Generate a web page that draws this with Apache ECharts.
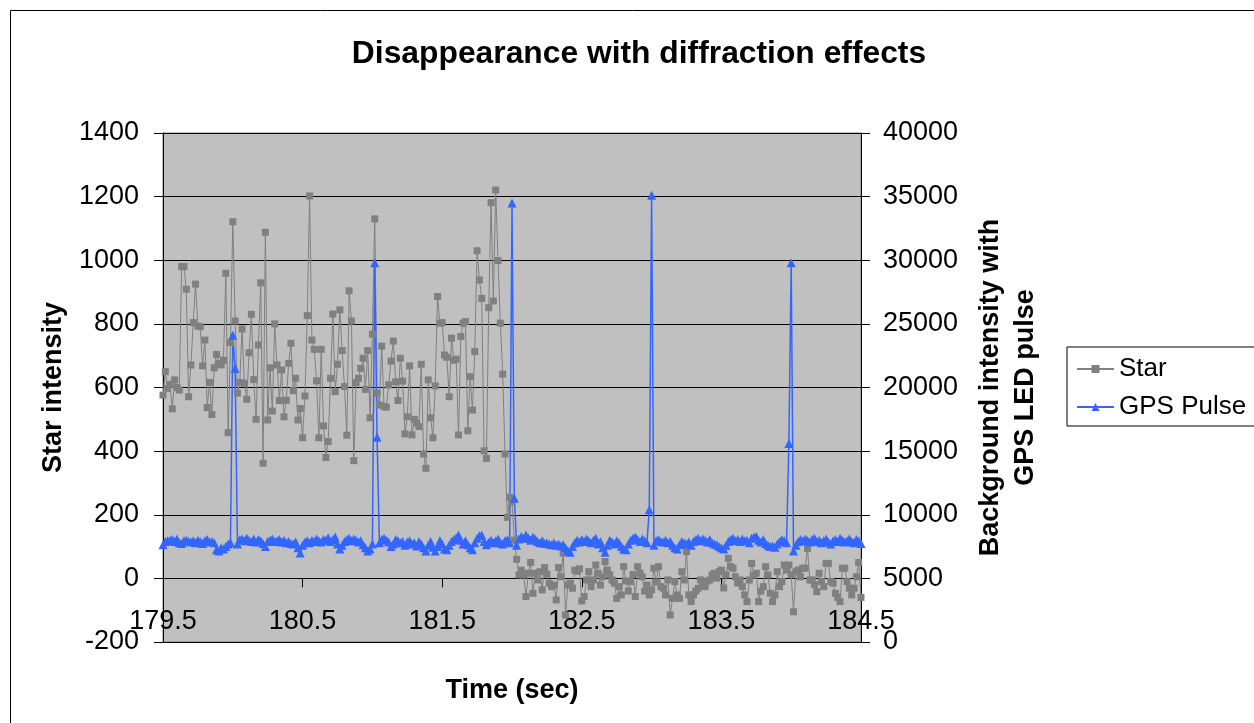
<!DOCTYPE html>
<html>
<head>
<meta charset="utf-8">
<title>Disappearance with diffraction effects</title>
<script src="https://cdn.jsdelivr.net/npm/echarts@6/dist/echarts.min.js"></script>
<style>
  html, body { margin: 0; padding: 0; background: #fff; }
  #container { width: 1254px; height: 723px; }
</style>
</head>
<body>
<div id="container"></div>
<script>
// video fields, 60 per second from 179.5 s
var startTime = 179.5;
var fieldsPerSec = 60;

var xTicks = [179.5, 180.5, 181.5, 182.5, 183.5, 184.5];

// star intensity, one value per field
var starIntensity = [
    576, 650, 597, 610, 533, 624, 600, 592, 980, 980, 909, 571, 671, 804, 925, 793, 791, 668, 749, 537,
    616, 515, 662, 704, 676, 671, 686, 959, 458, 741, 1121, 809, 582, 616, 784, 613, 563, 709, 830, 625,
    500, 734, 929, 362, 1088, 498, 662, 526, 800, 671, 559,
    655, 508, 560, 676, 739, 590, 629, 498, 534, 442, 573, 826, 1202, 749, 720, 621, 442, 720, 479, 380,
    430, 629, 831, 587, 673, 844, 716, 603, 450, 904, 809, 370, 615, 629, 660, 692, 594, 716, 505, 768,
    1130, 582, 545, 730, 540, 538, 608, 683, 746, 618, 559, 692, 620,
    454, 508, 668, 451, 500, 488, 477, 673, 391, 346, 624, 505, 442, 605, 886, 802, 804, 702, 695, 571,
    755, 686, 689, 451, 760, 802, 807, 464, 634, 529, 713, 1030, 938, 880, 401, 377, 851, 1181, 872, 1221,
    999, 802, 642, 391, 192, 255, 240, 120, 60,
    11, 26, 11, -57, 16, 50, -47, 16, -5, 21, -36, 34, 13, -15, -26, -21, -68, 34, 5, 79,
    -115, -21, -15, -31, 26, 22, 30, -71, -57, -5, 21, -26, -5, 42, 16, -21, 5, 53, 26, 11,
    -5, -15, -63, -26, -52, 37, -8, -40,
    -10, 12, -57, 37, 16, 5, -40, -21, -52, -36, 32, -12, 37, -26, -31, -52, -5, -115, -63, -10,
    -52, -63, 21, -5, 84, -52, -73, -52, -40, -31, -5, -21, -26, -8, -5, 11, 16, 1, 21, 26,
    -30, 11, 63, 37, 32, 5, -15, -5, -26, -52,
    -73, -5, 47, 10, 16, -73, -40, -26, 37, 11, -47, -73, -52, 21, -26, -10, 42, 26, 42, 11,
    -105, 21, 26, 5, 32, 32, 94, -5, -5, -20, -42, 16, -10, -26, 47, 47, -10, -15, -47, -60,
    -73, 32, 32, -10, -31, -52, -31, 5, 50, -60
];

// background intensity with the GPS LED pulse, one value per field
var gpsPulse = [
    7650, 7900, 7950, 8000, 8050, 7900, 8100, 7800, 7750, 7950, 8000, 7900, 7850, 7950, 7800, 8000, 7900, 7750, 7950, 8050,
    7850, 7900, 7800, 7250, 7150, 7400, 7300, 7500, 7700, 7800,
    24100, 21500,
    7700, 8050, 8100, 7950, 8150, 8000, 7900, 8100, 7850, 8050, 7950, 7750, 7500, 7900, 8000, 8100, 7900, 7950, 8050, 7850,
    8000, 7800, 7900, 7750, 7700, 7850, 7400, 7000, 7600, 7850, 7950, 7800, 8000, 7900, 8100, 7950, 7850, 8050, 8000, 8200,
    7900, 8050, 8250, 7700, 7300, 7600, 7900, 8050, 8150, 7950, 8100, 8000, 7850, 7950, 7650, 7400, 7150, 7300, 7700,
    29800, 16100,
    7800, 8050, 8150, 8000, 7850, 7500, 7700, 8050, 7950, 7800, 7900, 7600, 7850, 7950, 7700, 7800, 7550, 7900, 7700, 7400,
    7150, 7600, 7900, 7450, 7150, 7500, 7950, 7700, 7300, 7250, 7600, 7900, 8050, 8200, 8400, 8000, 7700, 7950, 7650, 7400,
    7250, 7800, 8150, 8350, 8400, 7900, 7650, 7850, 8000, 7800, 7950, 8100, 7800, 7700, 7950, 8050, 7800,
    34500, 11300,
    7600, 8100, 8300, 8150, 8400, 8200, 8000, 8250, 8100, 7900, 7800, 7950, 7750, 7800, 7700, 7650, 7800, 7600, 7700, 7550,
    7650, 7400, 7200, 7050, 7500, 7800, 8000, 7850, 8050, 7900, 8100, 7950, 7800, 8000, 8150, 7700, 7900, 7400, 7050, 7600,
    8000, 7850, 7700, 7950, 7800, 7500, 7300, 7250, 7700, 8000, 8150, 8250, 8050, 7900, 8100, 7950, 7800,
    10400, 35100,
    7600, 7950, 8050, 7900, 7850, 8000, 7800, 7900, 7600, 7400, 7300, 7650, 7900, 7800, 7700, 7850, 7600, 7900, 8050, 8150,
    7950, 8100, 8000, 7850, 8050, 7800, 7700, 7650, 7500, 7400, 7300, 7600, 7900, 8050, 8150, 7950, 8050, 7900, 8100, 7950,
    8000, 7800, 8150, 8250, 8300, 8000, 7850, 8050, 7750, 7600, 7500, 7550, 7450, 7700, 7900, 8050, 7950, 7800,
    15600, 29800,
    7150, 7600, 7900, 8050, 7950, 8100, 8000, 7850, 8050, 8150, 7900, 8000, 7800, 7950, 8100, 7850, 7700, 7950, 8050, 7900,
    8150, 8000, 7850, 7950, 8100, 7900, 7800, 8050, 7950, 7750
];

function withTime(values) {
    return values.map(function (v, i) {
        return [startTime + i / fieldsPerSec, v];
    });
}

function plain(v) {
    return String(v);
}

var fontFamily = 'Arial, "Liberation Sans", sans-serif';

var myChart = echarts.init(document.getElementById('container'));

var option = {
    animation: false,
    backgroundColor: '#fff',
    title: {
        text: 'Disappearance with diffraction effects',
        left: 634,
        textAlign: 'center',
        top: 33,
        textStyle: {
            color: '#000',
            fontWeight: 'bold',
            fontFamily: fontFamily,
            fontSize: 31.8
        }
    },
    graphic: [{
        type: 'rect',
        shape: { x: 10.5, y: 10.5, width: 1300, height: 800 },
        style: { fill: 'none', stroke: '#000', lineWidth: 1 },
        silent: true
    }],
    legend: {
        orient: 'vertical',
        left: 1067,
        top: 347,
        padding: [9, 30, 6, 9],
        itemGap: 12,
        itemWidth: 37,
        itemHeight: 10,
        backgroundColor: '#fff',
        borderColor: '#000',
        borderWidth: 1,
        borderRadius: 0,
        textStyle: {
            color: '#000',
            fontFamily: fontFamily,
            fontSize: 26
        },
        data: ['Star', 'GPS Pulse']
    },
    grid: {
        left: 163,
        right: 393,
        top: 133,
        bottom: 81,
        containLabel: false,
        outerBoundsMode: 'none',
        show: true,
        backgroundColor: '#C0C0C0',
        borderColor: '#808080',
        borderWidth: 1
    },
    xAxis: {
        type: 'value',
        min: 179.5,
        max: 184.5,
        name: 'Time (sec)',
        nameLocation: 'middle',
        nameGap: 35,
        nameTextStyle: {
            color: '#000',
            fontWeight: 'bold',
            fontFamily: fontFamily,
            fontSize: 27
        },
        axisLine: {
            onZero: true,
            onZeroAxisIndex: 0,
            lineStyle: { color: '#000', width: 1 }
        },
        axisTick: {
            show: true,
            customValues: xTicks,
            length: 9,
            lineStyle: { color: '#000' }
        },
        axisLabel: {
            customValues: xTicks,
            formatter: function (v) { return v.toFixed(1); },
            color: '#000',
            fontFamily: fontFamily,
            fontSize: 27,
            margin: -34
        },
        splitLine: { show: false }
    },
    yAxis: [{
        type: 'value',
        position: 'left',
        min: -200,
        max: 1400,
        interval: 200,
        name: 'Star intensity',
        nameLocation: 'middle',
        nameRotate: 90,
        nameGap: 96,
        nameTextStyle: {
            color: '#000',
            fontWeight: 'bold',
            fontFamily: fontFamily,
            fontSize: 27
        },
        axisLine: { show: true, lineStyle: { color: '#000' } },
        axisTick: { show: true, length: 9, lineStyle: { color: '#000' } },
        axisLabel: {
            formatter: plain,
            color: '#000',
            fontFamily: fontFamily,
            fontSize: 27,
            margin: 24
        },
        splitLine: { show: true, lineStyle: { color: '#000', width: 1 } }
    }, {
        type: 'value',
        position: 'right',
        min: 0,
        max: 40000,
        interval: 5000,
        name: 'Background intensity with\nGPS LED pulse',
        nameLocation: 'middle',
        nameRotate: 90,
        nameGap: 112,
        nameTextStyle: {
            color: '#000',
            fontWeight: 'bold',
            fontFamily: fontFamily,
            fontSize: 27,
            lineHeight: 35
        },
        axisLine: { show: true, lineStyle: { color: '#000' } },
        axisTick: { show: true, length: 9, lineStyle: { color: '#000' } },
        axisLabel: {
            formatter: plain,
            color: '#000',
            fontFamily: fontFamily,
            fontSize: 27,
            margin: 22
        },
        splitLine: { show: false }
    }],
    series: [{
        name: 'Star',
        type: 'line',
        yAxisIndex: 0,
        data: withTime(starIntensity),
        symbol: 'rect',
        symbolSize: 7,
        color: '#808080',
        itemStyle: { color: '#808080' },
        lineStyle: { color: '#808080', width: 1 }
    }, {
        name: 'GPS Pulse',
        type: 'line',
        yAxisIndex: 1,
        data: withTime(gpsPulse),
        symbol: 'triangle',
        symbolSize: 9,
        color: '#3366FF',
        itemStyle: { color: '#3366FF' },
        lineStyle: { color: '#3366FF', width: 1.5 }
    }]
};

myChart.setOption(option);
window.onresize = function () {
    myChart.resize();
};
</script>
</body>
</html>
